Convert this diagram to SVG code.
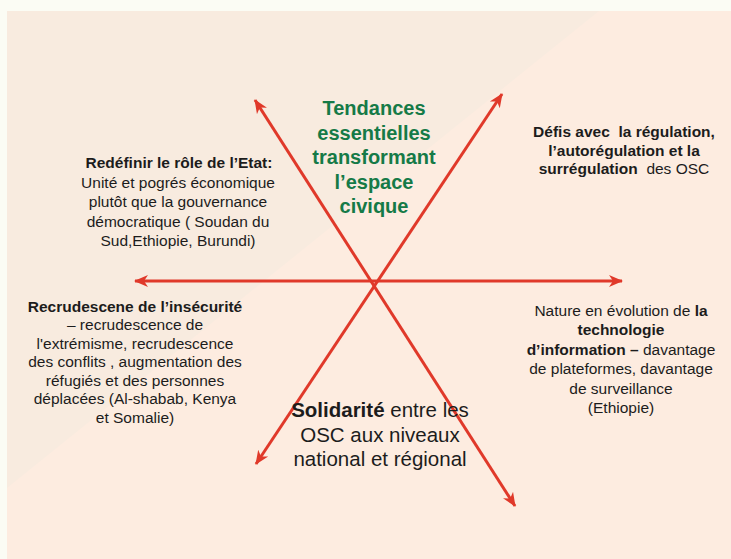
<svg xmlns="http://www.w3.org/2000/svg" width="731" height="559" viewBox="0 0 731 559">
<style>
  .t{font-family:"Liberation Sans",Arial,sans-serif;font-size:15.5px;fill:#1c1c1c;text-anchor:middle}
  .b{font-weight:bold}
  .title{font-family:"Liberation Sans",Arial,sans-serif;font-size:20px;font-weight:bold;fill:#157a47;text-anchor:middle}
  .big{font-family:"Liberation Sans",Arial,sans-serif;font-size:20.5px;fill:#1c1c1c;text-anchor:middle}
  .arr{stroke:#e0392a;stroke-width:3;fill:none;marker-start:url(#ah);marker-end:url(#ah)}
</style>
<defs>
  <marker id="ah" viewBox="0 0 14 14" refX="13" refY="7" markerWidth="14" markerHeight="14" markerUnits="userSpaceOnUse" orient="auto-start-reverse">
    <path d="M0,1 L14,7 L0,13 L4,7 z" fill="#e0392a"/>
  </marker>
</defs>
<rect width="731" height="559" fill="#fbfcf4"/>
<rect x="7" y="11" width="724" height="548" fill="#fdece0"/>
<polygon points="7,11 599,11 7,488" fill="#f8ebdf"/>
<g id="connectors">
  <line class="arr" x1="135" y1="281" x2="622" y2="281"/>
  <line class="arr" x1="255" y1="100" x2="515" y2="506"/>
  <line class="arr" x1="502" y1="94" x2="256" y2="464"/>
</g>
<g id="center-title">
  <text class="title" x="374" y="115">Tendances</text>
  <text class="title" x="374" y="139.5">essentielles</text>
  <text class="title" x="374" y="164">transformant</text>
  <text class="title" x="374" y="188.5">l’espace</text>
  <text class="title" x="374" y="213">civique</text>
</g>
<g id="node-etat">
  <text class="t b" x="179" y="168">Redéfinir le rôle de l’Etat:</text>
  <text class="t" x="178" y="187.5">Unité et pogrés économique</text>
  <text class="t" x="178" y="207">plutôt que la gouvernance</text>
  <text class="t" x="178" y="226.5">démocratique ( Soudan du</text>
  <text class="t" x="178" y="246">Sud,Ethiopie, Burundi)</text>
</g>
<g id="node-regulation">
  <text class="t b" x="624" y="137" xml:space="preserve">Défis avec  la régulation,</text>
  <text class="t b" x="624" y="155.5">l’autorégulation et la</text>
  <text class="t b" x="624" y="174" xml:space="preserve">surrégulation  <tspan font-weight="normal">des OSC</tspan></text>
</g>
<g id="node-insecurite">
  <text class="t b" x="135" y="311.5">Recrudescene de l’insécurité</text>
  <text class="t" x="135" y="330">– recrudescence de</text>
  <text class="t" x="135" y="348.5">l'extrémisme, recrudescence</text>
  <text class="t" x="135" y="367">des conflits , augmentation des</text>
  <text class="t" x="135" y="385.5">réfugiés et des personnes</text>
  <text class="t" x="135" y="404">déplacées (Al-shabab, Kenya</text>
  <text class="t" x="135" y="422.5">et Somalie)</text>
</g>
<g id="node-technologie">
  <text class="t" x="621" y="315.5">Nature en évolution de <tspan class="b">la</tspan></text>
  <text class="t b" x="621" y="335">technologie</text>
  <text class="t" x="621" y="354.5"><tspan class="b">d’information –</tspan> davantage</text>
  <text class="t" x="621" y="374">de plateformes, davantage</text>
  <text class="t" x="621" y="393.5">de surveillance</text>
  <text class="t" x="621" y="413">(Ethiopie)</text>
</g>
<g id="node-solidarite">
  <text class="big" x="380" y="417"><tspan font-weight="bold">Solidarité</tspan> entre les</text>
  <text class="big" x="380" y="442">OSC aux niveaux</text>
  <text class="big" x="380" y="466">national et régional</text>
</g>
</svg>
